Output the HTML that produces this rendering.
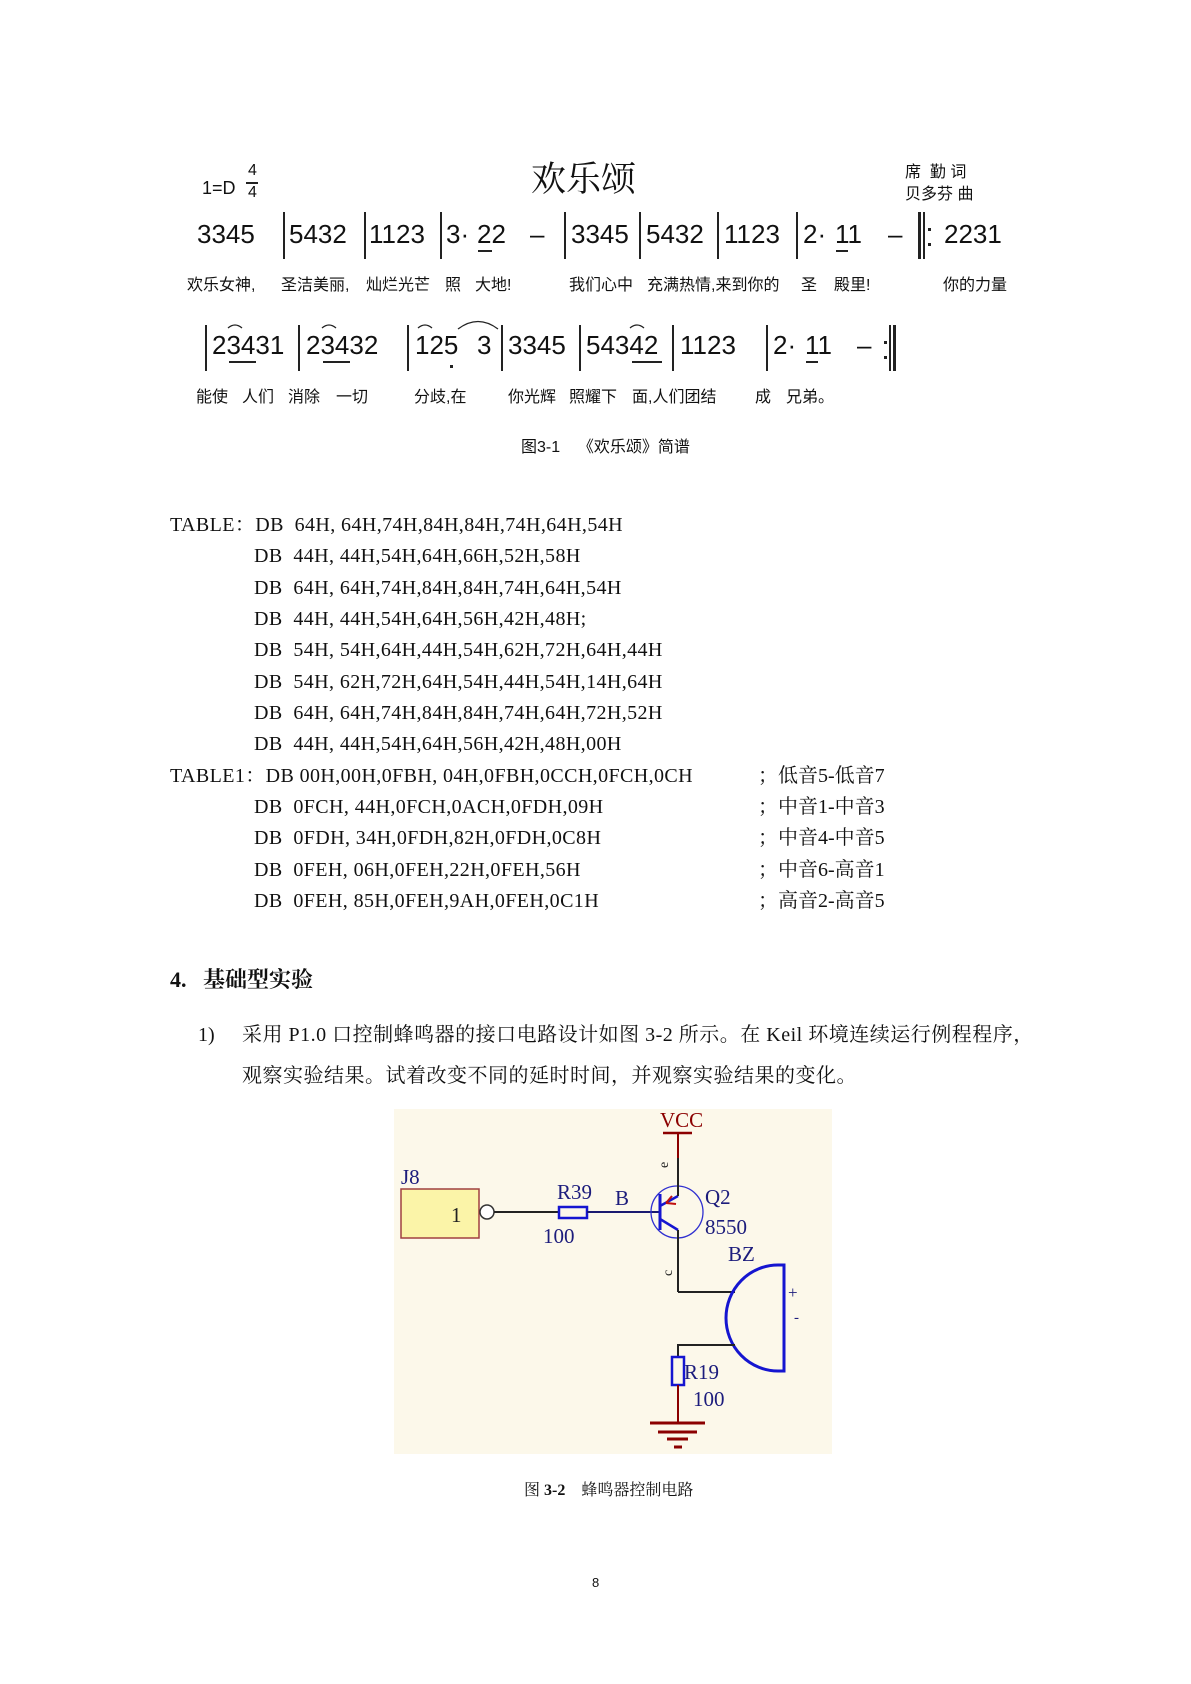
<!DOCTYPE html>
<html><head><meta charset="utf-8"><style>
body{margin:0;background:#fff;}
#p{position:relative;width:1191px;height:1684px;overflow:hidden;background:#fff;color:#111;}
.a{position:absolute;white-space:nowrap;}
.cj{font-family:"Liberation Sans","Noto Sans CJK SC",sans-serif;}
.n{font-family:"Liberation Sans","DejaVu Sans",sans-serif;font-size:26px;line-height:26px;}
.ly{font-family:"Liberation Sans","Noto Sans CJK SC",sans-serif;font-size:16px;line-height:16px;}
.t{font-family:"Liberation Serif","Noto Serif CJK SC",serif;font-size:20px;line-height:20px;letter-spacing:0.4px;}
.bar{position:absolute;width:1.5px;background:#222;}
.ul{position:absolute;height:1.5px;background:#222;}
</style></head><body><div id="p">

<div class="a cj" style="left:202px;top:178px;font-size:18px;">1=D</div>
<div class="a cj" style="left:248px;top:163px;font-size:16px;line-height:16px;">4</div>
<div class="ul" style="left:246px;top:182px;width:12px;"></div>
<div class="a cj" style="left:248px;top:185px;font-size:16px;line-height:16px;">4</div>
<div class="a" style="left:531px;top:157px;font-size:35px;line-height:40px;font-family:'Noto Serif CJK SC',serif;">欢乐颂</div>
<div class="a ly" style="left:905px;top:165px;">席&nbsp;&nbsp;勤 词</div>
<div class="a ly" style="left:905px;top:187px;">贝多芬 曲</div>

<div class="a n" style="left:197px;top:221px;">3345</div>
<div class="bar" style="left:283px;top:212px;height:47px;"></div>
<div class="a n" style="left:289px;top:221px;">5432</div>
<div class="bar" style="left:364px;top:212px;height:47px;"></div>
<div class="a n" style="left:369px;top:221px;">1123</div>
<div class="bar" style="left:440px;top:212px;height:47px;"></div>
<div class="a n" style="left:446px;top:221px;">3·</div>
<div class="a n" style="left:477px;top:221px;">22</div>
<div class="ul" style="left:478px;top:250px;width:14px;"></div>
<div class="a n" style="left:530px;top:221px;">–</div>
<div class="bar" style="left:564px;top:212px;height:47px;"></div>
<div class="a n" style="left:571px;top:221px;">3345</div>
<div class="bar" style="left:639px;top:212px;height:47px;"></div>
<div class="a n" style="left:646px;top:221px;">5432</div>
<div class="bar" style="left:717px;top:212px;height:47px;"></div>
<div class="a n" style="left:724px;top:221px;">1123</div>
<div class="bar" style="left:796px;top:212px;height:47px;"></div>
<div class="a n" style="left:803px;top:221px;">2·</div>
<div class="a n" style="left:835px;top:221px;">11</div>
<div class="ul" style="left:836px;top:250px;width:12px;"></div>
<div class="a n" style="left:888px;top:221px;">–</div>
<div class="bar" style="left:918px;top:212px;height:47px;width:3px;"></div>
<div class="bar" style="left:923px;top:212px;height:47px;"></div>
<div class="a" style="left:928px;top:228px;width:3px;height:3px;background:#222;"></div>
<div class="a" style="left:928px;top:243px;width:3px;height:3px;background:#222;"></div>
<div class="a n" style="left:944px;top:221px;">2231</div>

<div class="a ly" style="left:187px;top:278px;">欢乐女神,</div>
<div class="a ly" style="left:281px;top:278px;">圣洁美丽,</div>
<div class="a ly" style="left:366px;top:278px;">灿烂光芒</div>
<div class="a ly" style="left:445px;top:278px;">照</div>
<div class="a ly" style="left:475px;top:278px;">大地!</div>
<div class="a ly" style="left:569px;top:278px;">我们心中</div>
<div class="a ly" style="left:647px;top:278px;">充满热情,来到你的</div>
<div class="a ly" style="left:801px;top:278px;">圣</div>
<div class="a ly" style="left:834px;top:278px;">殿里!</div>
<div class="a ly" style="left:943px;top:278px;">你的力量</div>

<div class="bar" style="left:205px;top:325px;height:46px;"></div>
<div class="a n" style="left:212px;top:332px;">23431</div>
<div class="ul" style="left:229px;top:361px;width:27px;"></div>
<div class="bar" style="left:298px;top:325px;height:46px;"></div>
<div class="a n" style="left:306px;top:332px;">23432</div>
<div class="ul" style="left:323px;top:361px;width:27px;"></div>
<div class="bar" style="left:407px;top:325px;height:46px;"></div>
<div class="a n" style="left:415px;top:332px;">125</div>
<div class="a" style="left:450px;top:365px;width:3px;height:3px;background:#222;"></div>
<div class="a n" style="left:477px;top:332px;">3</div>
<div class="bar" style="left:501px;top:325px;height:46px;"></div>
<div class="a n" style="left:508px;top:332px;">3345</div>
<div class="bar" style="left:579px;top:325px;height:46px;"></div>
<div class="a n" style="left:586px;top:332px;">54342</div>
<div class="ul" style="left:632px;top:361px;width:30px;"></div>
<div class="bar" style="left:672px;top:325px;height:46px;"></div>
<div class="a n" style="left:680px;top:332px;">1123</div>
<div class="bar" style="left:766px;top:325px;height:46px;"></div>
<div class="a n" style="left:773px;top:332px;">2·</div>
<div class="a n" style="left:805px;top:332px;">11</div>
<div class="ul" style="left:806px;top:361px;width:12px;"></div>
<div class="a n" style="left:857px;top:332px;">–</div>
<div class="a" style="left:884px;top:341px;width:3px;height:3px;background:#222;"></div>
<div class="a" style="left:884px;top:356px;width:3px;height:3px;background:#222;"></div>
<div class="bar" style="left:889px;top:325px;height:46px;"></div>
<div class="bar" style="left:893px;top:325px;height:46px;width:3px;"></div>
<svg class="a" style="left:0;top:0" width="1191" height="400">
<g fill="none" stroke="#222" stroke-width="1.3">
<path d="M228,328 Q235,322 242,328"/><path d="M322,328 Q329,322 336,328"/>
<path d="M418,328 Q425,322 432,328"/><path d="M458,329 Q478,314 498,329"/>
<path d="M630,328 Q637,322 644,328"/>
</g></svg>

<div class="a ly" style="left:196px;top:390px;">能使</div>
<div class="a ly" style="left:242px;top:390px;">人们</div>
<div class="a ly" style="left:288px;top:390px;">消除</div>
<div class="a ly" style="left:336px;top:390px;">一切</div>
<div class="a ly" style="left:414px;top:390px;">分歧,在</div>
<div class="a ly" style="left:508px;top:390px;">你光辉</div>
<div class="a ly" style="left:569px;top:390px;">照耀下</div>
<div class="a ly" style="left:632px;top:390px;">面,人们团结</div>
<div class="a ly" style="left:755px;top:390px;">成</div>
<div class="a ly" style="left:786px;top:390px;">兄弟。</div>

<div class="a ly" style="left:521px;top:440px;">图3-1&nbsp;&nbsp;&nbsp;&nbsp;《欢乐颂》简谱</div>

<div class="a t" style="left:170px;top:515px;">TABLE：DB&nbsp; 64H, 64H,74H,84H,84H,74H,64H,54H</div>
<div class="a t" style="left:254px;top:546px;">DB&nbsp; 44H, 44H,54H,64H,66H,52H,58H</div>
<div class="a t" style="left:254px;top:578px;">DB&nbsp; 64H, 64H,74H,84H,84H,74H,64H,54H</div>
<div class="a t" style="left:254px;top:609px;">DB&nbsp; 44H, 44H,54H,64H,56H,42H,48H;</div>
<div class="a t" style="left:254px;top:640px;">DB&nbsp; 54H, 54H,64H,44H,54H,62H,72H,64H,44H</div>
<div class="a t" style="left:254px;top:672px;">DB&nbsp; 54H, 62H,72H,64H,54H,44H,54H,14H,64H</div>
<div class="a t" style="left:254px;top:703px;">DB&nbsp; 64H, 64H,74H,84H,84H,74H,64H,72H,52H</div>
<div class="a t" style="left:254px;top:734px;">DB&nbsp; 44H, 44H,54H,64H,56H,42H,48H,00H</div>
<div class="a t" style="left:170px;top:766px;">TABLE1：DB 00H,00H,0FBH, 04H,0FBH,0CCH,0FCH,0CH</div>
<div class="a t" style="left:254px;top:797px;">DB&nbsp; 0FCH, 44H,0FCH,0ACH,0FDH,09H</div>
<div class="a t" style="left:254px;top:828px;">DB&nbsp; 0FDH, 34H,0FDH,82H,0FDH,0C8H</div>
<div class="a t" style="left:254px;top:860px;">DB&nbsp; 0FEH, 06H,0FEH,22H,0FEH,56H</div>
<div class="a t" style="left:254px;top:891px;">DB&nbsp; 0FEH, 85H,0FEH,9AH,0FEH,0C1H</div>
<div class="a t" style="left:758px;top:766px;letter-spacing:0;">；低音5-低音7</div>
<div class="a t" style="left:758px;top:797px;letter-spacing:0;">；中音1-中音3</div>
<div class="a t" style="left:758px;top:828px;letter-spacing:0;">；中音4-中音5</div>
<div class="a t" style="left:758px;top:860px;letter-spacing:0;">；中音6-高音1</div>
<div class="a t" style="left:758px;top:891px;letter-spacing:0;">；高音2-高音5</div>

<div class="a" style="left:170px;top:968px;font-size:22px;line-height:24px;font-weight:bold;font-family:'Liberation Serif','Noto Serif CJK SC',serif;">4.&nbsp;&nbsp;&nbsp;基础型实验</div>
<div class="a t" style="left:198px;top:1025px;letter-spacing:0;">1)</div>
<div class="a t" style="left:242px;top:1025px;letter-spacing:0.5px;">采用 P1.0 口控制蜂鸣器的接口电路设计如图 3-2 所示。在 Keil 环境连续运行例程程序，</div>
<div class="a t" style="left:242px;top:1066px;letter-spacing:0.5px;">观察实验结果。试着改变不同的延时时间，并观察实验结果的变化。</div>

<svg class="a" style="left:0;top:0" width="1191" height="1684" font-family="Liberation Serif,serif" font-size="21">
<rect x="394" y="1109" width="438" height="345" fill="#fcf8ea"/>
<rect x="401" y="1189" width="78" height="49" fill="#fbf4a8" stroke="#a04040" stroke-width="1.5"/>
<text x="401" y="1184" fill="#1c1c7c">J8</text>
<text x="451" y="1222" fill="#222">1</text>
<circle cx="487" cy="1212" r="7" fill="#fff" stroke="#333" stroke-width="1.5"/>
<line x1="494" y1="1212" x2="559" y2="1212" stroke="#222" stroke-width="2"/>
<rect x="559" y="1207" width="28" height="11" fill="none" stroke="#1515d0" stroke-width="2.5"/>
<line x1="587" y1="1212" x2="660" y2="1212" stroke="#1a1a70" stroke-width="2"/>
<text x="557" y="1199" fill="#1c1c7c">R39</text>
<text x="543" y="1243" fill="#1c1c7c">100</text>
<text x="615" y="1205" fill="#1c1c7c">B</text>
<circle cx="677" cy="1212" r="26" fill="none" stroke="#3030d0" stroke-width="1.3"/>
<line x1="660" y1="1194" x2="660" y2="1230" stroke="#1515d0" stroke-width="3"/>
<line x1="660" y1="1206" x2="678" y2="1196" stroke="#1515d0" stroke-width="2.5"/>
<line x1="660" y1="1219" x2="678" y2="1230" stroke="#1515d0" stroke-width="2.5"/>
<path d="M666,1203 L672,1196 M666,1203 L676,1204" stroke="#c01010" stroke-width="2"/>
<line x1="678" y1="1133" x2="678" y2="1158" stroke="#8b0000" stroke-width="2"/>
<line x1="678" y1="1158" x2="678" y2="1196" stroke="#222" stroke-width="2"/>
<line x1="663" y1="1133" x2="692" y2="1133" stroke="#8b0000" stroke-width="2.5"/>
<text x="660" y="1127" fill="#8b0000">VCC</text>
<text x="0" y="0" fill="#222" font-size="14" transform="translate(668,1168) rotate(-90)">e</text>
<line x1="678" y1="1230" x2="678" y2="1292" stroke="#222" stroke-width="2"/>
<text x="0" y="0" fill="#222" font-size="14" transform="translate(672,1276) rotate(-90)">c</text>
<text x="705" y="1204" fill="#1c1c7c">Q2</text>
<text x="705" y="1234" fill="#1c1c7c">8550</text>
<text x="728" y="1261" fill="#1c1c7c">BZ</text>
<line x1="678" y1="1292" x2="735" y2="1292" stroke="#222" stroke-width="2"/>
<path d="M784,1265 L778,1265 A52,53 0 0 0 778,1371 L784,1371 Z" fill="none" stroke="#1515d0" stroke-width="3"/>
<text x="788" y="1298" fill="#1c1c7c" font-size="17">+</text>
<text x="794" y="1322" fill="#1c1c7c" font-size="15">-</text>
<polyline points="735,1345 678,1345 678,1357" fill="none" stroke="#222" stroke-width="2"/>
<rect x="672" y="1357" width="12" height="28" fill="none" stroke="#1515d0" stroke-width="2.5"/>
<line x1="678" y1="1385" x2="678" y2="1423" stroke="#8b0000" stroke-width="2"/>
<text x="684" y="1379" fill="#1c1c7c">R19</text>
<text x="693" y="1406" fill="#1c1c7c">100</text>
<g stroke="#8b0000" stroke-width="3">
<line x1="650" y1="1423" x2="705" y2="1423"/><line x1="658" y1="1432" x2="697" y2="1432"/>
<line x1="667" y1="1439" x2="688" y2="1439"/><line x1="674" y1="1447" x2="682" y2="1447"/>
</g>
</svg>
<div class="a" style="left:524px;top:1482px;font-size:16px;line-height:18px;font-family:'Liberation Serif','Noto Serif CJK SC',serif;">图 <b>3-2</b>&nbsp;&nbsp;&nbsp;&nbsp;蜂鸣器控制电路</div>

<div class="a" style="left:592px;top:1575px;font-size:13px;font-family:'Liberation Sans',sans-serif;">8</div>
</div></body></html>
